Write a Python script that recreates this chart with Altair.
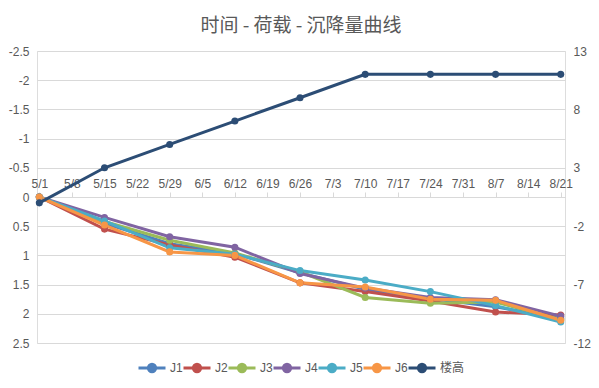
import altair as alt
import pandas as pd

# ---- data ----
dates = ["2021-05-01", "2021-05-15", "2021-05-29", "2021-06-12", "2021-06-26",
         "2021-07-10", "2021-07-24", "2021-08-07", "2021-08-21"]
J1 = [0, 0.45, 0.80, 0.97, 1.30, 1.58, 1.74, 1.88, 2.08]
J2 = [0, 0.55, 0.82, 1.03, 1.47, 1.62, 1.78, 1.97, 2.02]
J3 = [0, 0.42, 0.74, 0.96, 1.28, 1.72, 1.82, 1.80, 2.10]
J4 = [0, 0.35, 0.68, 0.86, 1.31, 1.56, 1.72, 1.76, 2.04]
J5 = [0, 0.41, 0.87, 0.98, 1.26, 1.42, 1.62, 1.86, 2.14]
J6 = [0, 0.48, 0.94, 1.00, 1.47, 1.54, 1.75, 1.77, 2.11]
building = [0, 3, 5, 7, 9, 11, 11, 11, 11]

series_names = ["J1", "J2", "J3", "J4", "J5", "J6"]
building_name = "楼高"
colors = ["#4F81BD", "#C0504D", "#9BBB59", "#8064A2", "#4BACC6", "#F79646", "#2C4D75"]

left_ticks = [-2.5, -2, -1.5, -1, -0.5, 0, 0.5, 1, 1.5, 2, 2.5]
right_ticks = [-12, -7, -2, 3, 8, 13]
x_ticks = ["2021-05-01", "2021-05-08", "2021-05-15", "2021-05-22", "2021-05-29",
           "2021-06-05", "2021-06-12", "2021-06-19", "2021-06-26", "2021-07-03",
           "2021-07-10", "2021-07-17", "2021-07-24", "2021-07-31", "2021-08-07",
           "2021-08-14", "2021-08-21"]
x_domain = ["2021-04-30 12:00", "2021-08-21 22:00"]
title_text = "时间 - 荷载 - 沉降量曲线"

# ---- tables ----
rows = []
for name, vals in zip(series_names, [J1, J2, J3, J4, J5, J6]):
    for d, v in zip(dates, vals):
        rows.append({"date": d, "series": name, "value": v})
settle = pd.DataFrame(rows)
bld = pd.DataFrame({"date": dates, "series": building_name, "value": building})


def ms(s):
    return int(pd.Timestamp(s, tz="UTC").timestamp() * 1000)


FONT = "Liberation Sans, Noto Sans CJK SC"
TXT = "#595959"
GRID = "#D9D9D9"
PATH = "M-1,0H1M0.27,0A0.27,0.27,0,1,1,-0.27,0A0.27,0.27,0,1,1,0.27,0Z"

x_enc = alt.X(
    "date:T",
    scale=alt.Scale(domain=[ms(x_domain[0]), ms(x_domain[1])]),
    axis=alt.Axis(orient="top", offset=-146, values=[ms(t) for t in x_ticks],
                  labelExpr="utcFormat(datum.value, '%-m/%-d')",
                  grid=False, domainColor=GRID, domainWidth=1, tickColor=GRID,
                  tickSize=5, labelPadding=2, title=None, zindex=0,
                  labelFont=FONT, labelFontSize=12, labelColor=TXT,
                  labelAngle=0, labelOverlap=False, labelFlush=False),
)

color_enc = alt.Color(
    "series:N",
    scale=alt.Scale(domain=series_names + [building_name], range=colors),
    legend=alt.Legend(title=None, orient="none", legendX=100, legendY=302,
                      direction="horizontal", gridAlign="none",
                      symbolType=PATH, symbolSize=729, symbolStrokeWidth=3,
                      labelFont=FONT, labelFontSize=12, labelColor=TXT,
                      labelOffset=3, columnPadding=-6),
)

y_left = alt.Y(
    "value:Q",
    scale=alt.Scale(domain=[-2.5, 2.5], reverse=True, nice=False, zero=False),
    axis=alt.Axis(orient="left", values=left_ticks, labelExpr="toString(datum.value)",
                  grid=True, gridColor=GRID, gridWidth=1, domain=False, ticks=False,
                  labelPadding=8, title=None, labelFont=FONT, labelFontSize=12,
                  labelColor=TXT),
)

y_right = alt.Y(
    "value:Q",
    scale=alt.Scale(domain=[-12, 13], nice=False, zero=False),
    axis=alt.Axis(orient="right", values=right_ticks, labelExpr="toString(datum.value)",
                  grid=False, domain=False, ticks=False, labelPadding=8, title=None,
                  labelFont=FONT, labelFontSize=12, labelColor=TXT),
)

left_base = alt.Chart(settle).encode(x=x_enc, y=y_left, color=color_enc, detail="series:N")
left = alt.layer(
    left_base.mark_line(strokeWidth=3),
    left_base.mark_circle(size=50, opacity=1),
)

right_base = alt.Chart(bld).encode(x=x_enc, y=y_right, color=color_enc)
right = alt.layer(
    right_base.mark_line(strokeWidth=3),
    right_base.mark_circle(size=50, opacity=1),
)

chart = (
    alt.layer(left, right)
    .resolve_scale(y="independent")
    .properties(
        width=528, height=292,
        padding={"left": 29, "top": 43, "right": 26, "bottom": 37},
        autosize=alt.AutoSizeParams(type="none"),
        title=alt.Title(text=title_text, font="Noto Sans CJK SC", fontSize=19,
                        fontWeight="normal", color=TXT, offset=9, anchor="middle"),
    )
    .configure_view(stroke=None)
    .configure(background="white")
)

chart.save("out.html", embed_options={"renderer": "svg", "actions": False})
